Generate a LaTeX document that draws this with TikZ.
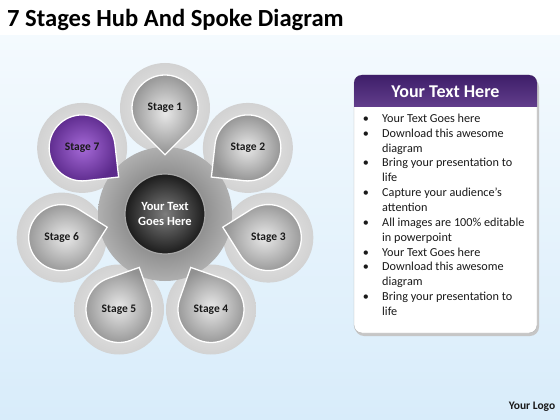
\documentclass[tikz,border=0pt]{standalone}
\usepackage{fontspec}
\setmainfont{Carlito}
\usetikzlibrary{calc}
\definecolor{bgtop}{RGB}{244,250,254}
\definecolor{bgbot}{RGB}{216,236,250}
\definecolor{haloin}{RGB}{236,236,236}
\definecolor{haloout}{RGB}{210,210,210}
\definecolor{dropin}{RGB}{232,232,232}
\definecolor{dropout}{RGB}{145,145,145}
\definecolor{purin}{RGB}{165,105,215}
\definecolor{purout}{RGB}{92,42,140}
\definecolor{ringin}{RGB}{100,100,100}
\definecolor{ringout}{RGB}{175,175,175}
\definecolor{corein}{RGB}{125,125,125}
\definecolor{coreout}{RGB}{28,28,28}
\definecolor{headtop}{RGB}{62,30,105}
\definecolor{headbot}{RGB}{98,62,140}
\definecolor{txt}{RGB}{25,25,25}
\tikzset{
  stagelbl/.style={font=\bfseries\fontsize{11.5}{13}\selectfont, text=txt},
  bullettxt/.style={anchor=mid west, font=\fontsize{12.2}{14}\selectfont, text=txt, inner sep=0pt},
  bulletdot/.style={anchor=mid, font=\fontsize{12.2}{14}\selectfont, text=txt, inner sep=0pt},
}
\begin{document}
\begin{tikzpicture}[x=1pt,y=-1pt]
\useasboundingbox (0,0) rectangle (560,420);
\fill[white] (0,0) rectangle (560,420);
\shade[top color=bgtop, bottom color=bgbot] (0,36) rectangle (560,420);
% title
\node[anchor=base west, inner sep=0pt, font=\bfseries\fontsize{24.6}{28}\selectfont, text=black] (title) at (7,27) {7 Stages Hub And Spoke Diagram};
% hub
\coordinate (hub) at (165,214);
\foreach \k in {1,...,7} {
  \pgfmathsetmacro\ang{-90+(\k-1)*360/7}
  \coordinate (c\k) at ($(hub)+(\ang:106)$);
}
\foreach \k in {1,...,7} {
  \shade[inner color=haloin, outer color=haloout] (c\k) circle (45);
}
\shade[inner color=ringin, outer color=ringout] (hub) circle (67);
\foreach \k in {1,...,7} {
  \pgfmathsetmacro\pa{-90+(\k-1)*360/7+180}
  \ifnum\k=7
    \shadedraw[inner color=purin, outer color=purout, draw=white, line width=1.3pt]
      ($(c\k)+(\pa+45:33)$) arc[start angle=\pa+45, end angle=\pa+315, radius=33] -- ($(c\k)+(\pa:46.7)$) -- cycle;
  \else
    \shadedraw[inner color=dropin, outer color=dropout, draw=white, line width=1.3pt]
      ($(c\k)+(\pa+45:33)$) arc[start angle=\pa+45, end angle=\pa+315, radius=33] -- ($(c\k)+(\pa:46.7)$) -- cycle;
  \fi
  \node[stagelbl] (s\k) at (c\k) {Stage \k};
}
% core
\shade[inner color=corein, outer color=coreout] (hub) circle (40);
\draw[gray!70, line width=1.2pt] (hub) circle (40);
\node[align=center, text=white, font=\bfseries\fontsize{12.5}{15}\selectfont] (core) at (hub) {Your Text\\Goes Here};
% panel
\fill[gray!45, rounded corners=9] (355,78) rectangle (539,336);
\filldraw[fill=white, draw=gray!60, rounded corners=8] (354,75) rectangle (537,333);
\shade[top color=headtop, bottom color=headbot] (354,107) [rounded corners=8] -- (354,75) -- (537,75) [sharp corners] -- (537,107) -- cycle;
\node[text=white, font=\bfseries\fontsize{18}{20}\selectfont] (head) at (445.5,92) {Your Text Here};
\foreach \t [count=\i from 0] in {Your Text Goes here, Download this awesome, diagram, Bring your presentation to, life, Capture your audience’s, attention, All images are 100\% editable, in powerpoint, Your Text Goes here, Download this awesome, diagram, Bring your presentation to, life} {
  \node[bullettxt] (l\i) at (382,{120+14.85*\i}) {\t};
}
\foreach \i in {0,1,3,5,7,9,10,12} {
  \node[bulletdot] (b\i) at (366,{120+14.85*\i}) {\textbullet};
}
\node[text=txt, font=\bfseries\fontsize{11.5}{13}\selectfont] (logo) at (532,407) {Your Logo};
\end{tikzpicture}
\end{document}
